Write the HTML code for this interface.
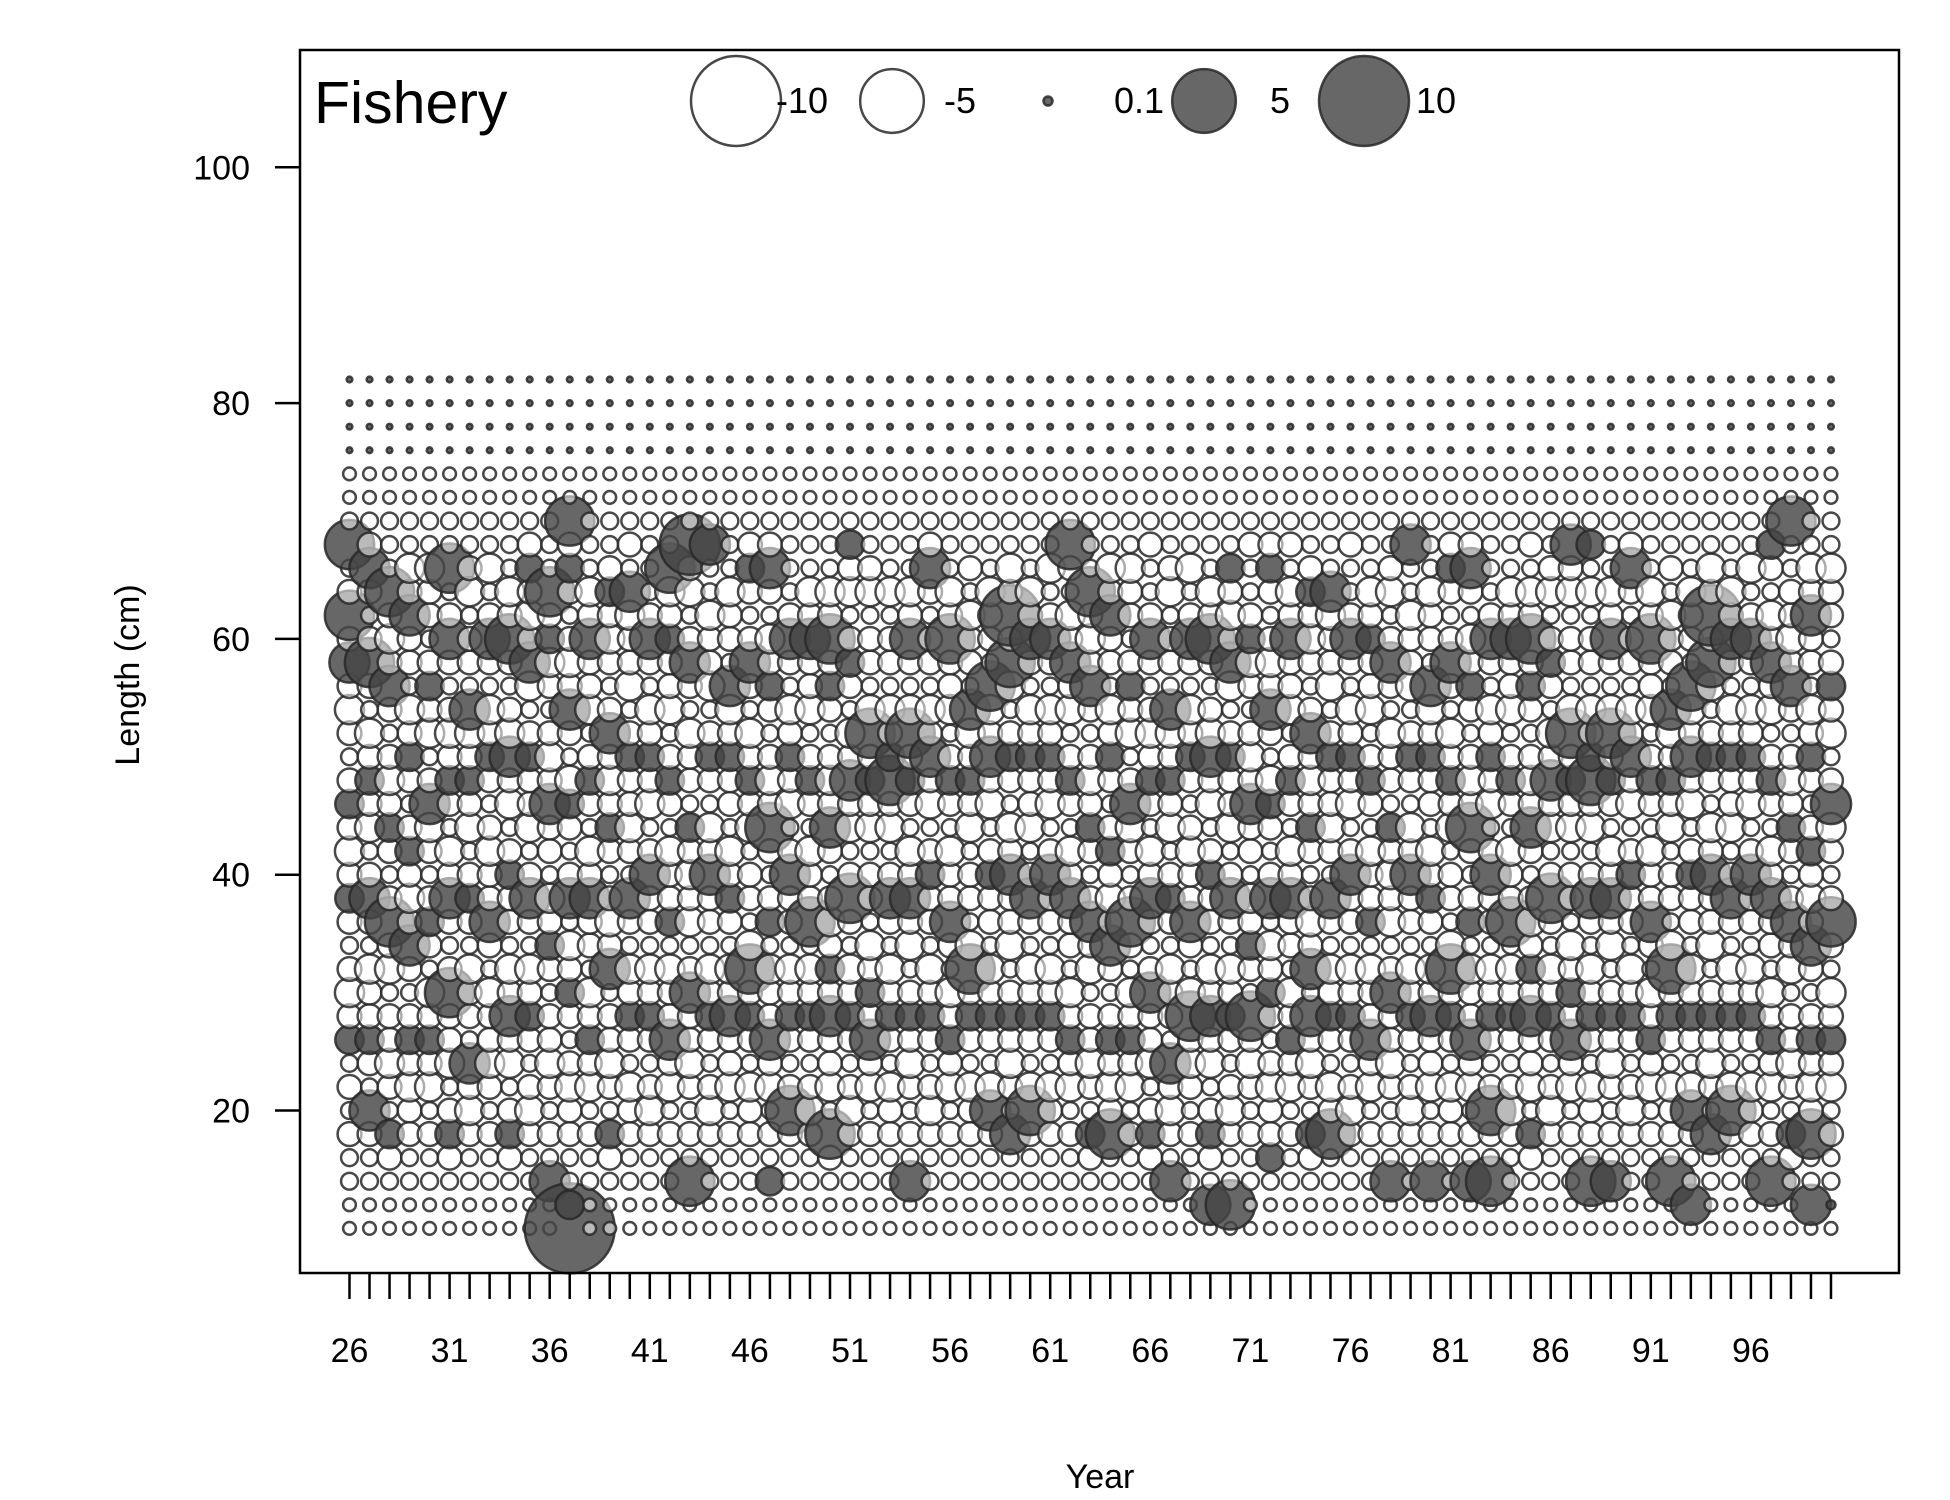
<!DOCTYPE html>
<html><head><meta charset="utf-8">
<style>
html,body{margin:0;padding:0;background:#fff;}
svg{display:block;font-family:"Liberation Sans",Arial,sans-serif;}
</style></head>
<body>
<svg id="chart" width="1950" height="1500" viewBox="0 0 1950 1500" xmlns="http://www.w3.org/2000/svg">
<rect x="0" y="0" width="1950" height="1500" fill="#fff"/>
<g id="marks"></g>
<rect x="300" y="50" width="1599" height="1223" fill="none" stroke="#000" stroke-width="2.5"/>
<g id="axes"></g>
<text x="314" y="123" font-size="59">Fishery</text>
<g id="legend"></g>
<text x="1100" y="1488" font-size="34" text-anchor="middle">Year</text>
<text x="139" y="675" font-size="34" text-anchor="middle" transform="rotate(-90 139 675)">Length (cm)</text>
</svg>
<script>
const years = [];
for (let y = 26; y <= 100; y++) years.push(y);
const lengthBins = [];
for (let l = 10; l <= 82; l += 2) lengthBins.push(l);
const yTicks = [20, 40, 60, 80, 100];
const xTickLabels = [26, 31, 36, 41, 46, 51, 56, 61, 66, 71, 76, 81, 86, 91, 96];
const legendValues = [-10, -5, 0.1, 5, 10];
const legendLabels = ["-10", "-5", "0.1", "5", "10"];
// bins 72..82 (small open, then tiny filled)
const upperCodes = "zzyyyy";
// residual codes per year for bins 10..70: digits +n/2, letters -0.35n, z=-0.2, y=+0.04, 0=0.1, K=+10
const residualCodes = [
"zzaab aba2b cbab2 bcb2b abcb4 b6ba6a",
"zzaab 4ab2b bcab4 bacb2 bcab6 bab4ba",
"zzab2 abcbb acb6b ab2bc bab4b cb6aaa",
"zzaab bcb2b ab4bc b2bab 2bcab b4bcaa",
"zzaab acb2b cab2b abc4b acb2b abbcaa",
"zzab2 bacbb 6bab4 bcab2 bcbab 4ba6aa",
"zzaab cb4ab bcab2 bacb2 bc4ab bacbaa",
"zzaab abcbb cab4b bcbab 2bcab 4bacaa",
"zzab2 bacb4 bcabb 2bacb 4cbab 6bcaaa",
"zzaab cbab2 bcab4 bacbb 2bac4 bcb2ba",
"zz4ab abcbb ab2bc abb4b cbabc 2b6aaa",
"K2aab bcbab 2bca4 bab2c ab4bc bab2b6",
"zzaab acb2b cabb4 bcab2 bacbb 4bcaaa",
"zzab2 abcbb a4bcb ab2bc b4bab cb2baa",
"zzaab bcab2 bcab4 abcbb 2bacb bc4aba",
"zzaab cbab2 bcabb 4bacb 2bcab 4baaaa",
"zzaab acb4b bca2b bcab2 bacbb 2bc6aa",
"zz6ab abcbb 4bacb cb2ab bcab4 bacb9a",
"zzaab cbab2 bcabb 4bcab 2bacb bcaa4a",
"zzaab acbb4 bcab2 bcabb 2bc4a bbcaaa",
"zzaab bcab2 b6cab bacb2 bcab4 bab2ba",
"zz2ab acb4b bca2b ab6bc bab2b cab4ba",
"zzaab 6bab2 bcabb 4bacb 2bcab 4baaaa",
"zzaab cbab2 bca6b bcab2 bacbb 4bcaaa",
"zzab6 acbb4 b2bcb ab4bc bab2b 6bcaaa",
"zzaab cbab2 bcab6 bacb4 bcab2 bacb2a",
"zzaab acb4b 2bcab bacb2 b6cab bacbaa",
"zzaab bcab2 bcab4 bacb6 2bcab bacaaa",
"zz4ab abcb2 bacb4 bcab2 b6cab 4bcaaa",
"zzaab cbab2 bcabb 2bacb 4bcab bab4ba",
"zzaab acb2b cab4b bcab2 bacbb 6bcaaa",
"zzaab bcab2 b6cab bacb2 bc4ab bcabaa",
"zzaab 4cab2 bcabb 2bacb 4bc6a bbcaaa",
"zzaa4 abcb2 bacbb 4bcab 2bac6 b9bcaa",
"zzaab 6cab2 bcab4 bacbb 2bcab 4bcaaa",
"zzaab bcab2 bcabb 4bacb 2bcab 4bacaa",
"zzaab acb2b cabb4 bcab2 bacb4 bcab6a",
"zzab2 abcbb acb4b ab2bc bab4b cb6aaa",
"zzaa6 bcb2b ab4bc b2bab 2bcab b4bcaa",
"zzaab acb2b cab6b abc4b acb2b abbcaa",
"zzab2 bacbb 4bab4 bcab2 bcbab 4baaba",
"zz4ab cb4ab bcab2 bacb2 bc4ab bacbaa",
"zzaab abcb6 cab4b bcbab 2bcab 4bacaa",
"z4ab2 bacb4 bcabb 2bacb 4cbab 6bcaaa",
"z6aab cbab2 bcab4 bacbb 2bac4 bcb2aa",
"zzaab abcb6 ab2bc abb4b cbabc 2baaba",
"zza2b bcbab 2bca4 bab2c ab4bc bab2ba",
"zzaab acb2b cabb4 bcab2 bacbb 4bcaba",
"zzab2 abcb4 a4bcb ab2bc b4bab cb2baa",
"zzaa6 bcab2 bcab4 abcbb 2bacb bc4aaa",
"zzaab cbab2 bcabb 4bacb 2bcab 4baaba",
"zzaab acb4b bca2b bcab2 bacbb 2bcaaa",
"zz4ab abcbb 4bacb cb2ab bcab4 bacbaa",
"zzaab cbab2 bcabb 4bcab 2bacb bcaa4a",
"zz4ab acbb4 bcab2 bcabb 2bc4a bbcaaa",
"zzaab bcab2 b6cab bacb2 bcab4 bab2ba",
"zz4ab acb4b bca2b ab6bc bab2b cab4ba",
"zz6ab 6bab2 bcabb 4bacb 2bcab 4baaaa",
"zzaab cbab2 bca6b bcab2 bacbb 4bcaaa",
"zzab2 acbb4 b2bcb ab4bc bab2b 6bcaba",
"zzaab cbab2 bcab6 bacb4 bcab2 bacbaa",
"zzaab acb4b 2bcab bacb2 b6cab bacb4a",
"zz6ab bcab2 bcab4 bacb6 2bcab baca2a",
"zz4ab abcb2 bacb4 bcab2 b6cab 4bcaaa",
"zzaab cbab2 bcabb 2bacb 4bcab bab4ba",
"zzaab acb2b cab4b bcab2 bacbb 6bcaaa",
"zz6ab bcab2 b6cab bacb2 bc4ab bcabaa",
"z4aab 4cab2 bcabb 2bacb 4bc6a bbcaaa",
"zzaa4 abcb2 bacbb 4bcab 2bac6 b9bcaa",
"zzaab 6cab2 bcab4 bacbb 2bcab 4bcaaa",
"zzaab bcab2 bcabb 4bacb 2bcab 4bacaa",
"zz6ab acb2b cabb4 bcab2 bacb4 bcab2a",
"zzab2 abcbb acb4b ab2bc bab4b cbbaa6",
"z4aa6 bcb2b ab4bc b2bab 2bcab b4bcaa",
"z0aab acb2b cab6b abc4b acb2b abbcaa"
];
function codeValue(c){
  if (c === 'z') return -0.2;
  if (c === 'y') return 0.04;
  if (c === '0') return 0.1;
  if (c === 'K') return 10;
  if (c >= '1' && c <= '9') return (c.charCodeAt(0) - 48) / 2;
  if (c >= 'a' && c <= 'i') return -(c.charCodeAt(0) - 96) * 0.35;
  return 0;
}
const NS = "http://www.w3.org/2000/svg";
const xScale = y => 349.5 + (y - 26) * 20.02;
const yScale = l => 1110.5 - (l - 20) * 11.79;
const rScale = v => 45 * Math.sqrt(Math.abs(v) / 10);
function circle(parent, cx, cy, v){
  const c = document.createElementNS(NS, "circle");
  c.setAttribute("cx", cx); c.setAttribute("cy", cy);
  c.setAttribute("r", Math.max(rScale(v), 2.2));
  if (v > 0){ c.setAttribute("fill", "rgba(70,70,70,0.82)"); }
  else { c.setAttribute("fill", "rgba(255,255,255,0.55)"); }
  c.setAttribute("stroke", "rgba(40,40,40,0.85)");
  c.setAttribute("stroke-width", "2.5");
  parent.appendChild(c);
  return c;
}
const marks = document.getElementById("marks");
years.forEach((yr, i) => {
  const codes = ((residualCodes[i] || "").replace(/ /g, "").slice(0, 31)) + upperCodes;
  lengthBins.forEach((len, j) => {
    if (j >= codes.length) return;
    const v = codeValue(codes[j]);
    const c = circle(marks, xScale(yr), yScale(len), v);
    
    
  });
});
const axes = document.getElementById("axes");
function line(x1,y1,x2,y2){
  const l = document.createElementNS(NS, "line");
  l.setAttribute("x1",x1);l.setAttribute("y1",y1);l.setAttribute("x2",x2);l.setAttribute("y2",y2);
  l.setAttribute("stroke","#000");l.setAttribute("stroke-width","2.5");
  axes.appendChild(l); return l;
}
function text(x,y,s,anchor,size){
  const t = document.createElementNS(NS, "text");
  t.setAttribute("x",x);t.setAttribute("y",y);t.setAttribute("font-size",size);
  t.setAttribute("text-anchor",anchor);t.textContent=s;
  axes.appendChild(t); return t;
}
yTicks.forEach(v => {
  const tk = line(275, yScale(v), 300, yScale(v));
  
  
  const t = text(250, yScale(v) + 12, String(v), "end", 34);
  
  
});
years.forEach(yr => {
  const tk = line(xScale(yr), 1273, xScale(yr), 1299);
  
  
});
xTickLabels.forEach(v => {
  const t = text(xScale(v), 1362, String(v), "middle", 34);
  
  
});
const legend = document.getElementById("legend");
const legendX = [736, 892, 1048, 1204, 1364];
const labelX = [802, 960, 1139, 1280, 1436];
legendValues.forEach((v, i) => {
  const c = circle(legend, legendX[i], 101, v);
  
  
  const t = document.createElementNS(NS, "text");
  t.setAttribute("x", labelX[i]); t.setAttribute("y", 113);
  t.setAttribute("font-size", 36); t.setAttribute("text-anchor", "middle");
  t.textContent = legendLabels[i];
  
  
  legend.appendChild(t);
});
</script>
</body></html>
